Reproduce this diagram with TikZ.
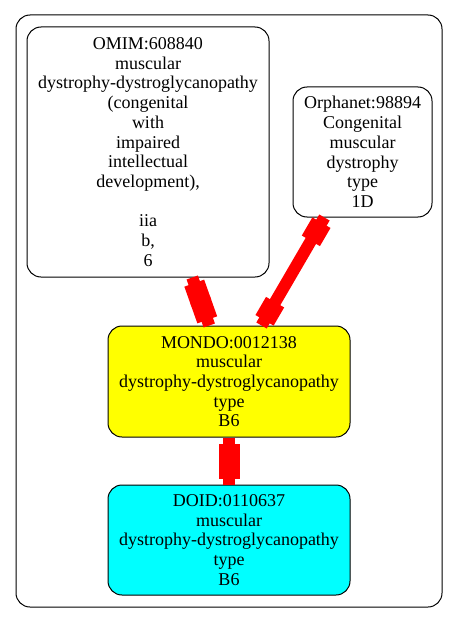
\documentclass[tikz,border=0pt]{standalone}
\usepackage{fontspec}
\setmainfont{Liberation Serif}
\definecolor{gvred}{RGB}{255,0,0}
\definecolor{gvyellow}{RGB}{255,255,0}
\definecolor{gvcyan}{RGB}{0,255,255}
\begin{document}
\begin{tikzpicture}[x=1pt,y=-1pt,
  box/.style={draw=black, line width=1pt, rounded corners=14pt, align=center,
    inner sep=0pt, font=\fontsize{18}{19.7}\selectfont},
  edgeline/.style={draw=gvred, line width=12pt},
  endbox/.style={fill=gvred, draw=none, inner sep=0pt, minimum width=21pt, minimum height=21pt, sloped, allow upside down}]
\useasboundingbox (0,0) rectangle (459,623);
\draw[line width=1pt, rounded corners=14pt] (16,15) rectangle (442,607);
\node[box, minimum width=242pt, minimum height=250pt] (omim) at (148,152)
  {OMIM:608840\\muscular\\dystrophy-dystroglycanopathy\\(congenital\\with\\impaired\\intellectual\\development),\\\mbox{}\\iia\\b,\\6};
\node[box, minimum width=139pt, minimum height=130pt] (orpha) at (362.5,152)
  {Orphanet:98894\\Congenital\\muscular\\dystrophy\\type\\1D};
\node[box, fill=gvyellow, minimum width=242pt, minimum height=111pt] (mondo) at (229,381.5)
  {MONDO:0012138\\muscular\\dystrophy-dystroglycanopathy\\type\\B6};
\node[box, fill=gvcyan, minimum width=242pt, minimum height=110pt] (doid) at (229,540)
  {DOID:0110637\\muscular\\dystrophy-dystroglycanopathy\\type\\B6};
\foreach \a/\b in {omim/mondo, orpha/mondo, mondo/doid}{
  \draw[edgeline] (\a) -- (\b)
    node[endbox, pos=0, anchor=west] {}
    node[endbox, pos=1, anchor=east] {};
}
\end{tikzpicture}
\end{document}
